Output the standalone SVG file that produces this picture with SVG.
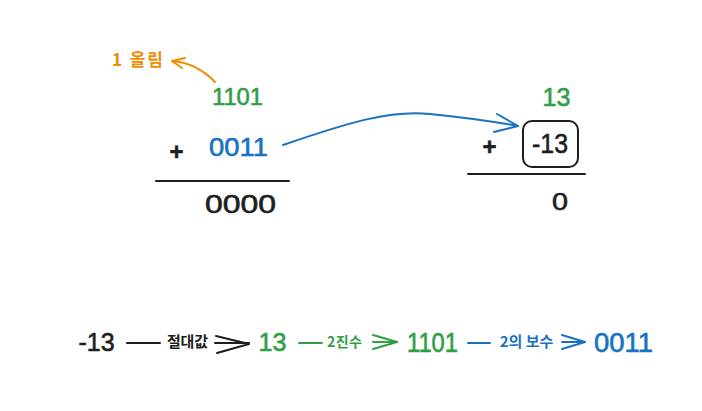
<svg xmlns="http://www.w3.org/2000/svg" width="702" height="411" viewBox="0 0 702 411">
<style>
  .t { font-family: "Liberation Sans", "Noto Sans CJK KR", sans-serif; text-anchor: middle; stroke-width: 0.6; stroke-linejoin: round; }
  .k { font-family: "Noto Sans CJK KR", "Liberation Sans", sans-serif; text-anchor: middle; font-weight: 700; }
  .blk { fill: #1e1e1e; }
  .grn { fill: #2f9e44; }
  .blu { fill: #1971c2; }
  .org { fill: #f08c00; }
  .t.blk { stroke: #1e1e1e; }
  .t.grn { stroke: #2f9e44; }
  .t.blu { stroke: #1971c2; }
  .ln { fill: none; stroke-width: 2; stroke-linecap: round; stroke-linejoin: round; }
  .sblk { stroke: #1e1e1e; }
  .sgrn { stroke: #2f9e44; }
  .sblu { stroke: #1971c2; }
  .sorg { stroke: #f08c00; }
</style>
<rect width="702" height="411" fill="#ffffff"/>

<!-- left addition -->
<g id="carry-label"><text class="k org" x="137.5" y="66" font-size="17" textLength="51">1 올림</text></g>
<g id="left-top"><text class="t grn" x="237.5" y="105" font-size="24" textLength="51" lengthAdjust="spacingAndGlyphs">1101</text></g>
<g id="left-plus"><text class="t blk" x="176.5" y="160" font-size="24" font-weight="bold">+</text></g>
<g id="left-addend"><text class="t blu" x="238.5" y="156" font-size="26" textLength="59" lengthAdjust="spacingAndGlyphs">0011</text></g>
<g id="left-rule"><line class="ln sblk" x1="156" y1="181" x2="289" y2="181"/></g>
<g id="left-result"><text class="t blk" x="240.5" y="213" font-size="26" textLength="71" lengthAdjust="spacingAndGlyphs">0000</text></g>

<!-- right addition -->
<g id="right-top"><text class="t grn" x="556.5" y="106" font-size="25">13</text></g>
<g id="right-plus"><text class="t blk" x="489.5" y="155" font-size="24" font-weight="bold">+</text></g>
<g id="right-addend">
  <rect class="ln sblk" x="523" y="121" width="55" height="46" rx="9"/>
  <text class="t blk" x="550" y="153" font-size="27" textLength="36" lengthAdjust="spacingAndGlyphs">-13</text>
</g>
<g id="right-rule"><line class="ln sblk" x1="468" y1="174" x2="585" y2="174"/></g>
<g id="right-result"><text class="t blk" x="560" y="210" font-size="24" textLength="16" lengthAdjust="spacingAndGlyphs">0</text></g>

<!-- bottom chain -->
<g id="n-neg13"><text class="t blk" x="96.5" y="351" font-size="25">-13</text></g>
<g id="n-13"><text class="t grn" x="272.5" y="351" font-size="25">13</text></g>
<g id="n-1101"><text class="t grn" x="432.5" y="352" font-size="27" textLength="51" lengthAdjust="spacingAndGlyphs">1101</text></g>
<g id="n-0011"><text class="t blu" x="623.5" y="352" font-size="27" textLength="59" lengthAdjust="spacingAndGlyphs">0011</text></g>

<g id="connectors">
  <g id="carry-arrow">
    <path class="ln sorg" d="M215,82 Q197,63 172,61"/>
    <path class="ln sorg" d="M185,58 L172,61 L182,68"/>
  </g>
  <g id="transfer-arrow">
    <path class="ln sblu" d="M283,145 C350,122 390,110 430,114 S490,121 518,126"/>
    <path class="ln sblu" d="M497,114 L518,126 L494,132"/>
  </g>
  <g id="abs-arrow">
    <path class="ln sblk" d="M127,343 L160,343"/>
    <path class="ln sblk" d="M215,343 L249,343"/>
    <path class="ln sblk" d="M216,336 L249,344 L217,353"/>
    <text class="k blk" x="187.5" y="347" font-size="15" font-weight="500" textLength="41">절대값</text>
  </g>
  <g id="bin-arrow">
    <path class="ln sgrn" d="M299,343 L322,343"/>
    <path class="ln sgrn" d="M373,342 L397,342"/>
    <path class="ln sgrn" d="M373,335 L397,342 L373,349"/>
    <text class="k grn" x="344.5" y="347" font-size="14" textLength="35">2진수</text>
  </g>
  <g id="comp-arrow">
    <path class="ln sblu" d="M468,343 L490,343"/>
    <path class="ln sblu" d="M562,342 L585,342"/>
    <path class="ln sblu" d="M562,335 L585,342 L562,349"/>
    <text class="k blu" x="526.5" y="347" font-size="15">2의 보수</text>
  </g>
</g>
</svg>
